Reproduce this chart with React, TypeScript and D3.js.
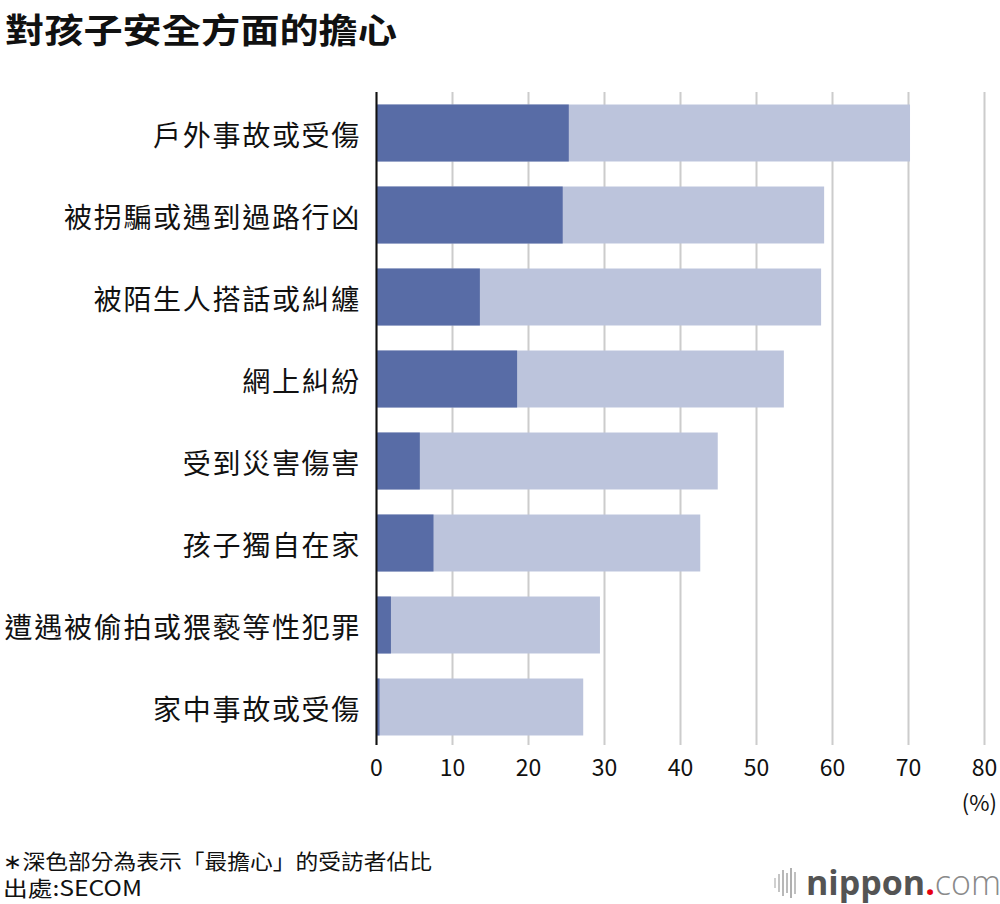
import React from "react";
import * as d3 from "d3";

const categories = [
  "戶外事故或受傷",
  "被拐騙或遇到過路行凶",
  "被陌生人搭話或糾纏",
  "網上糾紛",
  "受到災害傷害",
  "孩子獨自在家",
  "遭遇被偷拍或猥褻等性犯罪",
  "家中事故或受傷",
];
const totalValues = [70.2, 58.9, 58.5, 53.6, 44.9, 42.6, 29.4, 27.2];
const mostValues = [25.3, 24.5, 13.6, 18.5, 5.7, 7.5, 1.9, 0.4];
const xTicks = [0, 10, 20, 30, 40, 50, 60, 70, 80];

const W = 1000;
const H = 904;
const left = 376.5;
const right = 984.5;
const top = 92;
const bottom = 748;
const FONT = "'Noto Sans CJK TC', 'Noto Sans', sans-serif";

export default function App() {
  const x = d3.scaleLinear().domain([0, 80]).range([left, right]);
  const y = d3
    .scaleBand<string>()
    .domain(categories)
    .range([top, bottom])
    .paddingInner(0.305)
    .paddingOuter(0.1525);

  const logoBars = [
    { dx: 0, h: 10, c: "#d0d0d0" },
    { dx: 4, h: 18, c: "#c4c4c4" },
    { dx: 8, h: 26, c: "#b8b8b8" },
    { dx: 12, h: 20, c: "#bcbcbc" },
    { dx: 16, h: 30, c: "#b0b0b0" },
    { dx: 20, h: 22, c: "#c0c0c0" },
  ];

  return (
    <div style={{ position: "absolute", left: 0, top: 0, width: W, height: H, background: "#fff" }}>
      <svg width={W} height={H} style={{ display: "block" }}>
        <rect width={W} height={H} fill="#fff" />
        <text
          x={5}
          y={28}
          fontFamily={FONT}
          fontWeight={700}
          fontSize={34}
          dominantBaseline="central"
          textLength={392}
          lengthAdjust="spacingAndGlyphs"
          fill="#111"
        >
          對孩子安全方面的擔心
        </text>

        {xTicks.map((t) => (
          <line
            key={"g" + t}
            x1={x(t)}
            x2={x(t)}
            y1={top}
            y2={745}
            stroke="#cccccc"
            strokeWidth={2}
          />
        ))}

        {categories.map((c, i) => (
          <g key={c}>
            <rect
              x={x(0)}
              y={y(c)}
              width={x(totalValues[i]) - x(0)}
              height={y.bandwidth()}
              fill="#bcc4dc"
            />
            <rect
              x={x(0)}
              y={y(c)}
              width={x(mostValues[i]) - x(0)}
              height={y.bandwidth()}
              fill="#586ca6"
            />
            <text
              x={361}
              y={(y(c) as number) + y.bandwidth() / 2 + 1}
              textAnchor="end"
              dominantBaseline="central"
              fontFamily={FONT}
              fontSize={28}
              letterSpacing={1.7}
              fill="#111"
            >
              {c}
            </text>
          </g>
        ))}

        <line x1={left} x2={left} y1={top} y2={745} stroke="#111" strokeWidth={2} />

        {xTicks.map((t) => (
          <text
            key={"t" + t}
            x={x(t)}
            y={766}
            textAnchor="middle"
            dominantBaseline="central"
            fontFamily={FONT}
            fontSize={23}
            fill="#111"
          >
            {t}
          </text>
        ))}
        <text
          x={997}
          y={801}
          textAnchor="end"
          dominantBaseline="central"
          fontFamily={FONT}
          fontSize={22}
          fill="#111"
        >
          (%)
        </text>

        <text
          x={3}
          y={860}
          dominantBaseline="central"
          fontFamily={FONT}
          fontSize={21}
          textLength={429}
          lengthAdjust="spacingAndGlyphs"
          fill="#111"
        >
          ∗深色部分為表示「最擔心」的受訪者佔比
        </text>
        <text
          x={3}
          y={887}
          dominantBaseline="central"
          fontFamily={FONT}
          fontSize={21}
          textLength={139}
          lengthAdjust="spacingAndGlyphs"
          fill="#111"
        >
          出處:SECOM
        </text>

        <g transform="translate(774,883)">
          {logoBars.map((b, i) => (
            <rect key={i} x={b.dx} y={-b.h / 2} width={2} height={b.h} fill={b.c} />
          ))}
        </g>
        <text
          x={806}
          y={882}
          dominantBaseline="central"
          fontFamily="'Open Sans', 'Noto Sans', sans-serif"
          fontSize={34}
          fill="#555"
        >
          <tspan fontWeight={700} fill="#545454">nippon</tspan>
          <tspan fill="#e60012" fontWeight={700}>.</tspan>
          <tspan fill="#8a8a8a" fontWeight={300}>com</tspan>
        </text>
      </svg>
    </div>
  );
}
